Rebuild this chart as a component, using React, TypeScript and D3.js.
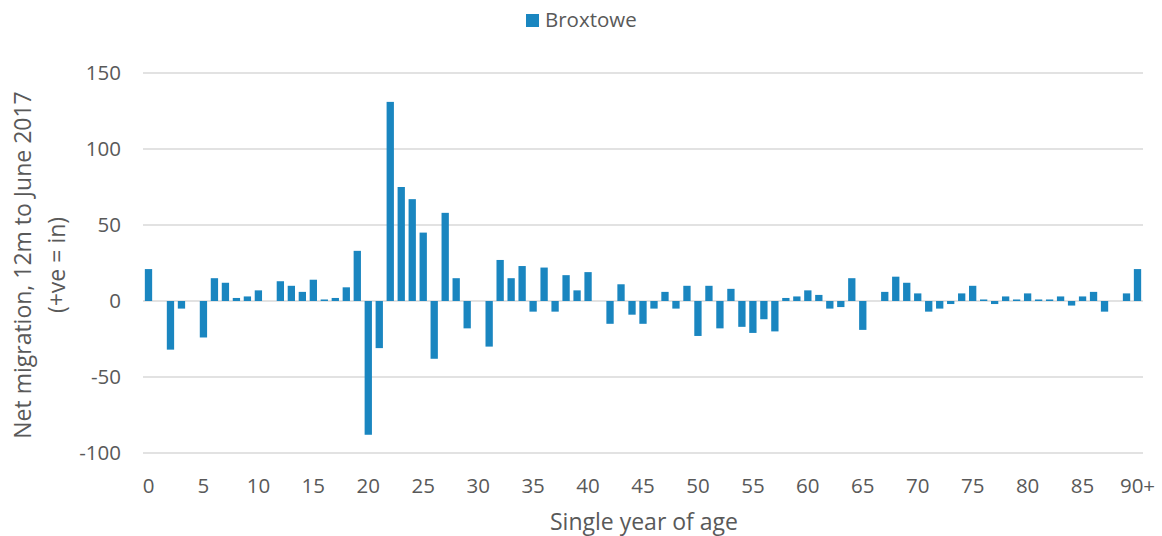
import { useMemo } from 'react';
import * as d3 from 'd3';

const ages = d3.range(0, 91).map((a) => (a === 90 ? '90+' : String(a)));

const netMigration = [
  21, 0, -32, -5, 0, -24, 15, 12, 2, 3,
  7, 0, 13, 10, 6, 14, 1, 2, 9, 33,
  -88, -31, 131, 75, 67, 45, -38, 58, 15, -18,
  0, -30, 27, 15, 23, -7, 22, -7, 17, 7,
  19, 0, -15, 11, -9, -15, -5, 6, -5, 10,
  -23, 10, -18, 8, -17, -21, -12, -20, 2, 3,
  7, 4, -5, -4, 15, -19, 0, 6, 16, 12,
  5, -7, -5, -2, 5, 10, 1, -2, 3, 1,
  5, 1, 1, 3, -3, 3, 6, -7, 0, 5,
  21,
];

const yTicks = [-100, -50, 0, 50, 100, 150];
const xTickLabels = ['0', '5', '10', '15', '20', '25', '30', '35', '40', '45', '50', '55', '60', '65', '70', '75', '80', '85', '90+'];

const seriesName = 'Broxtowe';

const WIDTH = 1162;
const HEIGHT = 536;
const BAR = '#1a86c0';
const TEXT = '#595959';
const FONT = '"Open Sans", sans-serif';

export default function App() {
  const x = useMemo(
    () => d3.scaleBand<string>().domain(ages).range([143, 1143]).paddingInner(0.335).paddingOuter(0.1675),
    []
  );
  const y = useMemo(() => d3.scaleLinear().domain([-100, 150]).range([453, 73]), []);

  return (
    <svg
      width={WIDTH}
      height={HEIGHT}
      style={{ position: 'absolute', left: 0, top: 0, background: '#fff' }}
      fontFamily={FONT}
    >
      {/* legend */}
      <rect x={526} y={14} width={13} height={13} fill={BAR} />
      <text x={545} y={27} fontSize={20.5} fill={TEXT}>
        {seriesName}
      </text>

      {/* gridlines */}
      {yTicks.map((t) => (
        <line key={t} x1={143} x2={1143} y1={y(t)} y2={y(t)} stroke="#d9d9d9" strokeWidth={1.5} />
      ))}

      {/* y tick labels */}
      {yTicks.map((t) => (
        <text key={t} x={121} y={y(t)} dy="0.35em" textAnchor="end" fontSize={20.5} fill={TEXT}>
          {t}
        </text>
      ))}

      {/* bars */}
      {netMigration.map((v, i) => (
        <rect
          key={ages[i]}
          x={x(ages[i])}
          width={x.bandwidth()}
          y={Math.min(y(v), y(0))}
          height={Math.abs(y(v) - y(0))}
          fill={BAR}
        />
      ))}

      {/* x tick labels */}
      {xTickLabels.map((lab) => (
        <text
          key={lab}
          x={(x(lab) ?? 0) + x.bandwidth() / 2}
          y={493}
          textAnchor="middle"
          fontSize={20.5}
          fill={TEXT}
        >
          {lab}
        </text>
      ))}

      {/* axis titles */}
      <text x={644} y={530} textAnchor="middle" fontSize={23} fill={TEXT}>
        Single year of age
      </text>
      <g transform="translate(23,265) rotate(-90)">
        <text x={0} y={0} dy="0.35em" textAnchor="middle" fontSize={23} fill={TEXT}>
          Net migration, 12m to June 2017
        </text>
        <text x={0} y={34} dy="0.35em" textAnchor="middle" fontSize={23} fill={TEXT}>
          (+ve = in)
        </text>
      </g>
    </svg>
  );
}
